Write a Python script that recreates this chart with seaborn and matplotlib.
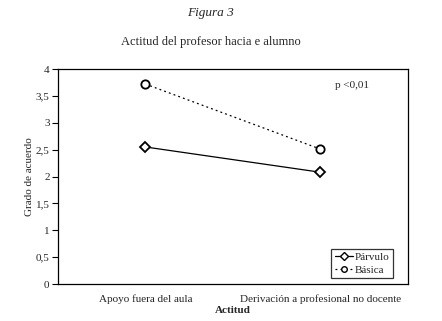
import matplotlib
matplotlib.use("Agg")
import matplotlib.pyplot as plt
import seaborn as sns
import pandas as pd
from matplotlib.lines import Line2D

categories = ["Apoyo fuera del aula", "Derivación a profesional no docente"]
parvulo = [2.55, 2.08]
basica = [3.72, 2.51]
yticks = [0, 0.5, 1, 1.5, 2, 2.5, 3, 3.5, 4]
ytick_labels = ["0", "0,5", "1", "1,5", "2", "2,5", "3", "3,5", "4"]

sns.set_theme(style="white")
plt.rcParams['font.family'] = ['Liberation Serif', 'DejaVu Serif']

df = pd.DataFrame({
    "pos": [0, 1, 0, 1],
    "valor": parvulo + basica,
    "serie": ["Párvulo"] * 2 + ["Básica"] * 2,
})

fig = plt.figure(figsize=(4.42, 3.21), dpi=100)
ax = fig.add_axes([0.131, 0.115, 0.792, 0.670])

sns.lineplot(data=df[df.serie == "Párvulo"], x="pos", y="valor", ax=ax,
             color="black", linewidth=0.9, marker="D", markersize=5,
             markerfacecolor="white", markeredgecolor="black", markeredgewidth=1.3,
             legend=False)
sns.lineplot(data=df[df.serie == "Básica"], x="pos", y="valor", ax=ax,
             color="black", linewidth=0.9, linestyle=(0, (1.5, 2.5)), marker="o", markersize=6,
             markerfacecolor="white", markeredgecolor="black", markeredgewidth=1.3,
             legend=False)

fs = 8
ax.set_xlim(-0.5, 1.5)
ax.set_ylim(0, 4)
ax.set_yticks(yticks)
ax.set_yticklabels(ytick_labels, fontsize=fs)
ax.set_xticks([0, 1])
ax.set_xticklabels(categories, fontsize=fs)
ax.set_xticks([-0.5, 0.5, 1.5], minor=True)
ax.tick_params(axis="x", which="major", length=0, pad=7)
ax.tick_params(axis="x", which="minor", length=4, width=0.8, color="black", direction="in")
ax.tick_params(axis="y", which="major", length=4, width=0.8, color="black", direction="out", left=True, pad=2)
for s in ax.spines.values():
    s.set_color("black")
    s.set_linewidth(0.9)

ax.set_xlabel("Actitud", fontsize=fs, fontweight="bold", labelpad=2)
ax.set_ylabel("Grado de acuerdo", fontsize=fs, labelpad=1)

ax.text(0.84, 0.925, "p <0,01", transform=ax.transAxes, fontsize=fs, ha="center", va="center")

handles = [
    Line2D([], [], color="black", linewidth=0.9, marker="D", markersize=4,
           markerfacecolor="white", markeredgecolor="black", label="Párvulo"),
    Line2D([], [], color="black", linewidth=0.9, linestyle=(0, (1.5, 2.5)), marker="o", markersize=4,
           markerfacecolor="white", markeredgecolor="black", label="Básica"),
]
leg = ax.legend(handles=handles, loc="lower right", bbox_to_anchor=(0.957, 0.028),
                fontsize=fs, frameon=True, fancybox=False, edgecolor="black",
                handlelength=1.6, handletextpad=0.2, borderpad=0.3, labelspacing=0.3,
                borderaxespad=0)
leg.get_frame().set_linewidth(0.9)

fig.text(0.477, 0.96, "Figura 3", fontsize=9.5, style="italic", ha="center", va="center")
fig.text(0.477, 0.87, "Actitud del profesor hacia e alumno", fontsize=9, ha="center", va="center")

fig.savefig("out.png", dpi=100, facecolor="white")
